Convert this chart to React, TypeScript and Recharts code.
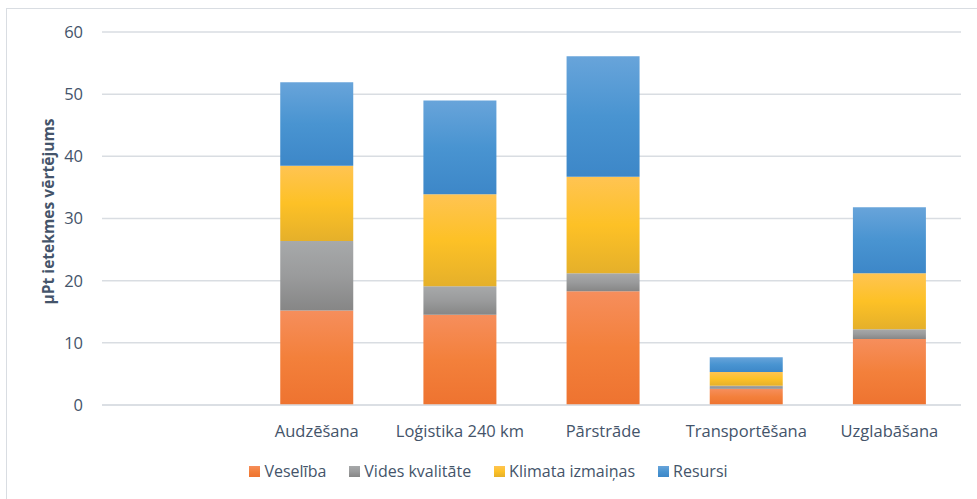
import React from 'react';
import { BarChart, Bar, XAxis, YAxis, CartesianGrid, Legend } from 'recharts';

const categories = ['', 'Audzēšana', 'Loģistika 240 km', 'Pārstrāde', 'Transportēšana', 'Uzglabāšana'];
const veseliba = [null, 15.2, 14.5, 18.3, 2.6, 10.6];
const videsKvalitate = [null, 11.2, 4.6, 2.9, 0.5, 1.6];
const klimataIzmainas = [null, 12.1, 14.8, 15.5, 2.2, 9.0];
const resursi = [null, 13.4, 15.1, 19.4, 2.4, 10.6];
const yTicks = [0, 10, 20, 30, 40, 50, 60];

const seriesDefs = [
  { key: 'v', name: 'Veselība', grad: 'gOrange', stops: ['#f68e5c', '#f3803b', '#ee7330'] },
  { key: 'k', name: 'Vides kvalitāte', grad: 'gGray', stops: ['#a7a9aa', '#9a9b9c', '#868686'] },
  { key: 'c', name: 'Klimata izmaiņas', grad: 'gYellow', stops: ['#ffc452', '#fdc126', '#e5b02a'] },
  { key: 'r', name: 'Resursi', grad: 'gBlue', stops: ['#68a4da', '#4994d1', '#3d87c8'] },
];

const data = categories.map((name, i) => ({
  name,
  v: veseliba[i],
  k: videsKvalitate[i],
  c: klimataIzmainas[i],
  r: resursi[i],
}));

const FONT = '"Open Sans", sans-serif';
const TEXT = '#44546a';

const YLabel = (props: any) => {
  const vb = props.viewBox || { y: 32, height: 373 };
  const cy = vb.y + vb.height / 2 - 7;
  return (
    <text
      x={48}
      y={cy}
      transform={`rotate(-90, 48, ${cy})`}
      textAnchor="middle"
      dominantBaseline="central"
      fill={TEXT}
      fontFamily={FONT}
      fontSize={15.6}
      fontWeight={700}
    >
      µPt ietekmes vērtējums
    </text>
  );
};

const LegendContent = () => (
  <div
    style={{
      display: 'flex',
      justifyContent: 'center',
      alignItems: 'center',
      fontFamily: FONT,
      fontSize: 16,
      color: TEXT,
      gap: 23,
    }}
  >
    {seriesDefs.map((s) => (
      <div key={s.key} style={{ display: 'flex', alignItems: 'center' }}>
        <span
          style={{
            display: 'inline-block',
            width: 11,
            height: 11,
            marginRight: 4,
            background: `linear-gradient(${s.stops[0]}, ${s.stops[1]}, ${s.stops[2]})`,
          }}
        />
        <span>{s.name}</span>
      </div>
    ))}
  </div>
);

export default function App() {
  return (
    <div style={{ position: 'absolute', left: 0, top: 0, width: 977, height: 499, overflow: 'hidden', background: '#fff' }}>
      <div
        style={{
          position: 'absolute',
          left: 6,
          top: 8,
          width: 1100,
          height: 700,
          border: '1px solid #d9dde2',
          boxSizing: 'border-box',
        }}
      />
      <div style={{ position: 'absolute', left: 0, top: 0 }}>
        <BarChart
          width={977}
          height={499}
          data={data}
          margin={{ top: 32, right: 16, bottom: 54, left: 0 }}
          barCategoryGap="24.5%"
        >
          <defs>
            {seriesDefs.map((s) => (
              <linearGradient key={s.grad} id={s.grad} x1="0" y1="0" x2="0" y2="1">
                <stop offset="0%" stopColor={s.stops[0]} />
                <stop offset="50%" stopColor={s.stops[1]} />
                <stop offset="100%" stopColor={s.stops[2]} />
              </linearGradient>
            ))}
          </defs>
          <CartesianGrid vertical={false} stroke="#d9dde2" strokeWidth={1.5} />
          <XAxis
            dataKey="name"
            interval={0}
            tickLine={false}
            axisLine={{ stroke: '#d9dde2', strokeWidth: 1.5 }}
            tickMargin={14}
            height={40}
            tick={{ fill: TEXT, fontFamily: FONT, fontSize: 16.5 }}
          />
          <YAxis
            width={102}
            domain={[0, 60]}
            ticks={yTicks}
            tickLine={false}
            axisLine={false}
            tickMargin={13}
            tick={{ fill: TEXT, fontFamily: FONT, fontSize: 16.5 }}
            label={<YLabel />}
          />
          <Legend
            layout="horizontal"
            verticalAlign="middle"
            align="center"
            wrapperStyle={{ top: 460, left: 0, width: 977 }}
            content={<LegendContent />}
          />
          {seriesDefs.map((s) => (
            <Bar
              key={s.key}
              dataKey={s.key}
              name={s.name}
              stackId="a"
              fill={`url(#${s.grad})`}
              isAnimationActive={false}
            />
          ))}
        </BarChart>
      </div>
    </div>
  );
}
